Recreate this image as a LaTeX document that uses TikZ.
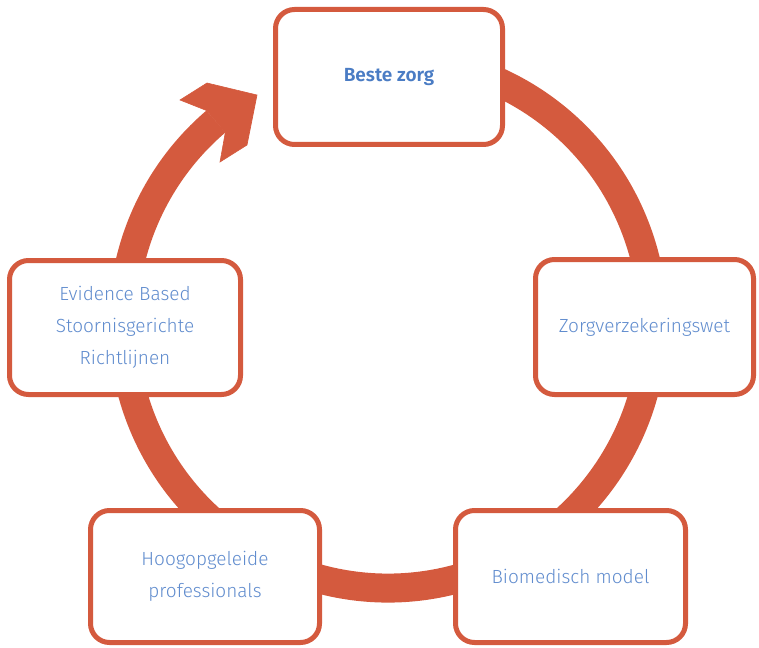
\documentclass[tikz,border=0pt]{standalone}
\usepackage{fontspec}
\setmainfont{Fira Sans}
\newfontfamily\lightf{Fira Sans Light}
\newfontfamily\medf{Fira Sans SemiBold}
\definecolor{ringc}{RGB}{212,90,62}
\definecolor{txtc}{RGB}{96,140,206}
\definecolor{txtb}{RGB}{74,124,196}
\begin{document}
\begin{tikzpicture}[x=1pt,y=-1pt,
  box/.style={draw=ringc,line width=5pt,fill=white,rounded corners=19pt,
    align=center,text=txtc,font=\lightf\fontsize{19}{32}\selectfont,inner sep=0pt},
  ringline/.style={draw=ringc,line width=29pt}]
\useasboundingbox (0,0) rectangle (759,647);
% ring
\coordinate (c) at (388,323);
\draw[ringline] ([shift={(-110:265)}]c) arc[start angle=-110,end angle=229.5,radius=265];
% arrow head
\fill[ringc,draw=ringc,line width=0.6pt] (206.5,110.5) -- (180,100) -- (207,83) -- (257,95)
  -- (247,145) -- (220,162) -- (225.3,132.5) -- cycle;
% boxes
\node[box,minimum width=227pt,minimum height=135pt,text=txtb,font=\medf\fontsize{19}{32}\selectfont] (top) at (389,77) {Beste zorg};
\node[box,minimum width=218pt,minimum height=135pt] (right) at (644.5,327) {Zorgverzekeringswet};
\node[box,minimum width=230pt,minimum height=132pt] (br) at (570.5,576.5) {Biomedisch model};
\node[box,minimum width=229pt,minimum height=132pt] (bl) at (205,576.5) {Hoogopgeleide\\professionals};
\node[box,minimum width=231pt,minimum height=134pt] (left) at (125,327.5) {Evidence Based\\Stoornisgerichte\\Richtlijnen};
\end{tikzpicture}
\end{document}
